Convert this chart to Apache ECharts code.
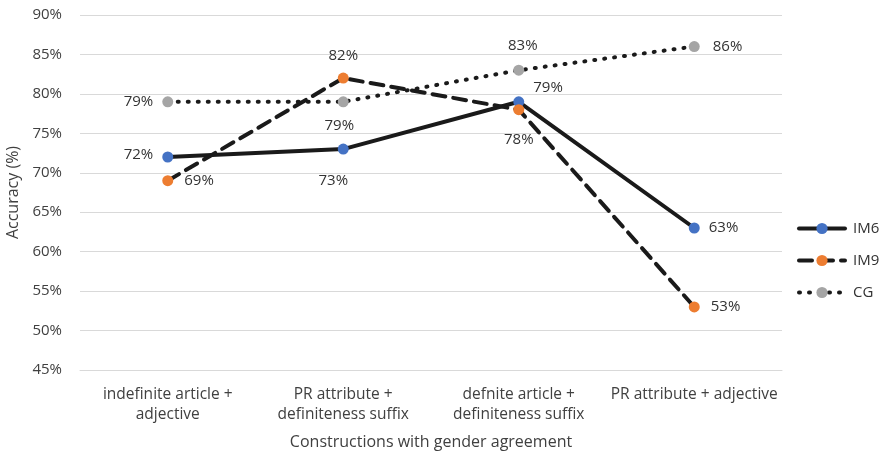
<!DOCTYPE html>
<html><head><meta charset="utf-8">
<script src="https://cdn.jsdelivr.net/npm/echarts@6/dist/echarts.min.js"></script>
<style>html,body{margin:0;padding:0;background:#fff}#c{width:883px;height:454px}</style>
</head><body><div id="c"></div>
<script>
const categories = ['indefinite article +\nadjective', 'PR attribute +\ndefiniteness suffix', 'defnite article +\ndefiniteness suffix', 'PR attribute + adjective'];
const im6 = [72, 73, 79, 63];
const im9 = [69, 82, 78, 53];
const cg = [79, 79, 83, 86];
const yTicks = {min: 45, max: 90, interval: 5};

const font = 'Open Sans';
const lab = (pos, off) => ({
  show: true, position: pos, offset: off, formatter: '{c}%',
  fontFamily: font, fontSize: 15, color: '#333333'
});

function mk(name, data, color, type, labels) {
  return {
    name, type: 'line', data: data.map((v, i) => ({value: v, label: labels[i]})),
    symbol: 'circle', symbolSize: 11,
    itemStyle: {color: color, borderWidth: 0},
    lineStyle: {color: '#1a1a1a', width: 4, type: type, cap: 'round'},
    emphasis: {disabled: true}, z: 3
  };
}

const chart = echarts.init(document.getElementById('c'));
chart.setOption({
  animation: false,
  grid: {left: 80, right: 101, top: 15, bottom: 84, containLabel: false, outerBoundsMode: 'none'},
  legend: {
    orient: 'vertical', left: 792, top: 216, itemGap: 17, itemWidth: 46, itemHeight: 14,
    lineStyle: {width: 4},
    textStyle: {fontFamily: font, fontSize: 15, color: '#333333', padding: [0, 0, 0, 3]},
    data: ['IM6', 'IM9', 'CG']
  },
  xAxis: {
    type: 'category', data: categories, boundaryGap: true,
    axisLine: {lineStyle: {color: '#d9d9d9', width: 1}}, axisTick: {show: false},
    axisLabel: {fontFamily: font, fontSize: 15.5, color: '#404040', margin: 15, lineHeight: 20, interval: 0},
    name: 'Constructions with gender agreement', nameLocation: 'middle', nameGap: 64,
    nameTextStyle: {fontFamily: font, fontSize: 16, color: '#404040'}
  },
  yAxis: {
    type: 'value', min: yTicks.min, max: yTicks.max, interval: yTicks.interval,
    axisLine: {show: false}, axisTick: {show: false},
    splitLine: {lineStyle: {color: '#d9d9d9', width: 1}},
    axisLabel: {formatter: '{value}%', fontFamily: font, fontSize: 15, color: '#404040', margin: 18},
    name: 'Accuracy (%)', nameLocation: 'middle', nameGap: 52,
    nameTextStyle: {fontFamily: font, fontSize: 16, color: '#404040'}
  },
  series: [
    mk('IM6', im6, '#4472C4', 'solid', [lab('left', [-4, -2]), lab('bottom', [-10, 14]), lab('right', [4, -14]), lab('right', [4, 0])]),
    mk('IM9', im9, '#ED7D31', [13, 8], [lab('right', [6, 0]), lab('top', [0, -4]), lab('bottom', [0, 12]), lab('right', [6, 0])]),
    mk('CG', cg, '#A5A5A5', [1, 9], [lab('left', [-4, 0]), lab('bottom', [-4, 6]), lab('top', [4, -6]), lab('right', [8, 0])])
  ]
});
</script></body></html>
